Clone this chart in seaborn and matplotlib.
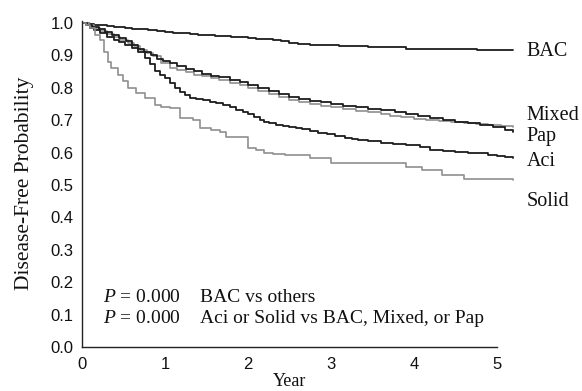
import matplotlib
matplotlib.use("Agg")
import matplotlib.pyplot as plt
import seaborn as sns
import pandas as pd

sns.set_theme(style="white")
plt.rcParams["font.family"] = ["Liberation Serif", "DejaVu Serif"]
plt.rcParams["mathtext.fontset"] = "custom"
plt.rcParams["mathtext.it"] = "Liberation Serif:italic"
plt.rcParams["mathtext.rm"] = "Liberation Serif"

# Kaplan-Meier step curves (time in years, survival probability)
bac_t = [0, 0.03, 0.08, 0.15, 0.22, 0.3, 0.38, 0.45, 0.52, 0.6, 0.7, 0.8, 0.9, 1.0, 1.1, 1.2, 1.3, 1.4, 1.5, 1.6,
         1.7, 1.8, 1.9, 2.0, 2.1, 2.2, 2.3, 2.4, 2.5, 2.6, 2.75, 2.9, 3.1, 3.3, 3.45, 3.6, 3.9, 4.3, 4.76, 5.2]
bac_s = [1.0, 0.999, 0.997, 0.995, 0.993, 0.991, 0.989, 0.987, 0.985, 0.983, 0.98, 0.978, 0.975, 0.972, 0.97, 0.968,
         0.966, 0.964, 0.962, 0.961, 0.96, 0.958, 0.956, 0.954, 0.952, 0.95, 0.947, 0.943, 0.939, 0.936, 0.933, 0.931,
         0.929, 0.928, 0.927, 0.925, 0.921, 0.919, 0.917, 0.917]

pap_t = [0, 0.06, 0.12, 0.2, 0.28, 0.36, 0.45, 0.53, 0.6, 0.68, 0.75, 0.83, 0.9, 0.98, 1.06, 1.15, 1.25, 1.35, 1.45,
         1.55, 1.65, 1.78, 1.9, 2.0, 2.12, 2.25, 2.38, 2.5, 2.62, 2.75, 2.88, 3.0, 3.15, 3.3, 3.45, 3.6, 3.77, 3.9,
         4.05, 4.2, 4.35, 4.5, 4.65, 4.8, 4.95, 5.1, 5.2]
pap_s = [1.0, 0.995, 0.988, 0.98, 0.972, 0.963, 0.953, 0.943, 0.932, 0.921, 0.911, 0.9, 0.89, 0.882, 0.876, 0.867,
         0.858, 0.851, 0.844, 0.838, 0.832, 0.824, 0.818, 0.81, 0.8, 0.79, 0.781, 0.772, 0.766, 0.76, 0.755, 0.75,
         0.745, 0.741, 0.736, 0.731, 0.726, 0.72, 0.714, 0.708, 0.702, 0.696, 0.69, 0.684, 0.678, 0.671, 0.665]

mixed_t = [0, 0.08, 0.15, 0.22, 0.3, 0.38, 0.46, 0.55, 0.63, 0.7, 0.78, 0.85, 0.95, 1.06, 1.15, 1.25, 1.35, 1.45,
           1.55, 1.65, 1.78, 1.9, 2.0, 2.12, 2.25, 2.38, 2.5, 2.62, 2.75, 2.88, 3.0, 3.15, 3.3, 3.45, 3.6, 3.71,
           3.85, 4.0, 4.15, 4.3, 4.45, 4.6, 4.75, 4.9, 5.05, 5.2]
mixed_s = [1.0, 0.993, 0.985, 0.976, 0.967, 0.958, 0.948, 0.938, 0.928, 0.918, 0.908, 0.898, 0.878, 0.862, 0.855,
           0.848, 0.841, 0.835, 0.829, 0.823, 0.815, 0.808, 0.80, 0.79, 0.78, 0.771, 0.762, 0.756, 0.75, 0.745,
           0.74, 0.735, 0.729, 0.724, 0.718, 0.713, 0.709, 0.705, 0.701, 0.698, 0.695, 0.692, 0.689, 0.686, 0.683, 0.68]

aci_t = [0, 0.05, 0.1, 0.15, 0.22, 0.3, 0.38, 0.45, 0.52, 0.6, 0.67, 0.76, 0.82, 0.88, 0.94, 1.0, 1.06, 1.12, 1.18,
         1.24, 1.3, 1.38, 1.46, 1.54, 1.62, 1.7, 1.78, 1.86, 1.94, 2.0, 2.07, 2.14, 2.2, 2.26, 2.34, 2.42, 2.5, 2.58,
         2.65, 2.75, 2.85, 2.95, 3.05, 3.17, 3.25, 3.33, 3.45, 3.6, 3.75, 3.9, 4.08, 4.2, 4.35, 4.5, 4.65, 4.76, 4.9,
         5.0, 5.1, 5.2]
aci_s = [1.0, 0.993, 0.985, 0.977, 0.968, 0.958, 0.948, 0.94, 0.932, 0.922, 0.91, 0.892, 0.872, 0.852, 0.84, 0.83,
         0.815, 0.80, 0.788, 0.778, 0.77, 0.765, 0.761, 0.757, 0.752, 0.746, 0.74, 0.733, 0.725, 0.719, 0.71, 0.70,
         0.695, 0.69, 0.686, 0.683, 0.68, 0.676, 0.672, 0.666, 0.66, 0.656, 0.651, 0.645, 0.642, 0.64, 0.636, 0.63,
         0.627, 0.623, 0.618, 0.608, 0.605, 0.602, 0.60, 0.598, 0.594, 0.59, 0.586, 0.583]

solid_t = [0, 0.05, 0.1, 0.16, 0.22, 0.27, 0.31, 0.35, 0.43, 0.5, 0.55, 0.65, 0.76, 0.88, 0.95, 1.06, 1.18, 1.34,
           1.42, 1.55, 1.66, 1.74, 2.0, 2.1, 2.2, 2.3, 2.45, 2.75, 3.0, 3.9, 4.1, 4.34, 4.6, 5.2]
solid_s = [1.0, 0.995, 0.985, 0.963, 0.948, 0.91, 0.88, 0.86, 0.84, 0.82, 0.80, 0.785, 0.77, 0.747, 0.742, 0.738,
           0.707, 0.70, 0.676, 0.67, 0.665, 0.649, 0.613, 0.607, 0.60, 0.596, 0.593, 0.583, 0.569, 0.557, 0.546,
           0.531, 0.518, 0.515]

groups = ["BAC", "Mixed", "Pap", "Aci", "Solid"]
curve_t = {"BAC": bac_t, "Mixed": mixed_t, "Pap": pap_t, "Aci": aci_t, "Solid": solid_t}
curve_s = {"BAC": bac_s, "Mixed": mixed_s, "Pap": pap_s, "Aci": aci_s, "Solid": solid_s}
label_y = {"BAC": 0.911, "Mixed": 0.716, "Pap": 0.649, "Aci": 0.574, "Solid": 0.45}
colors = {"BAC": "#1c1c1c", "Mixed": "#8f8f8f", "Pap": "#1c1c1c", "Aci": "#1c1c1c", "Solid": "#8f8f8f"}
widths = {"BAC": 1.3, "Mixed": 1.2, "Pap": 1.3, "Aci": 1.3, "Solid": 1.2}

x_ticks = [0, 1, 2, 3, 4, 5]
y_ticks = [0.0, 0.1, 0.2, 0.3, 0.4, 0.5, 0.6, 0.7, 0.8, 0.9, 1.0]
p_lines = [("$P$ = 0.000", "BAC vs others"),
           ("$P$ = 0.000", "Aci or Solid vs BAC, Mixed, or Pap")]

fig = plt.figure(figsize=(5.82, 3.91), dpi=100)
ax = fig.add_axes([82 / 582, 44 / 391, 433 / 582, 325.6 / 391])

for g in groups:
    df = pd.DataFrame({"t": curve_t[g], "s": curve_s[g]})
    sns.lineplot(data=df, x="t", y="s", ax=ax, drawstyle="steps-post",
                 color=colors[g], linewidth=widths[g], estimator=None, sort=False)
    ax.text(5.36, label_y[g], g, fontsize=14.5, va="center", ha="left",
            clip_on=False, color="#111111")

ax.set_xlim(0, 5.22)
ax.set_ylim(0, 1.005)
ax.set_xticks(x_ticks)
ax.set_yticks(y_ticks)
ax.set_xticklabels([str(v) for v in x_ticks], fontfamily="Liberation Sans", fontsize=12)
ax.set_yticklabels([f"{v:.1f}" for v in y_ticks], fontfamily="Liberation Sans", fontsize=12)
ax.tick_params(axis="both", direction="in", length=2.5, width=0.8, colors="#222222",
               labelcolor="#111111")
ax.tick_params(axis="y", pad=6)
ax.tick_params(axis="x", pad=7)

for side in ["top", "right"]:
    ax.spines[side].set_visible(False)
for side in ["left", "bottom"]:
    ax.spines[side].set_color("#222222")
    ax.spines[side].set_linewidth(1.0)
ax.spines["bottom"].set_bounds(0, 5)

ax.set_xlabel("")
ax.set_ylabel("")
ax.text(2.5, -0.108, "Year", fontsize=13, ha="center", va="center",
        transform=ax.transData, clip_on=False, color="#111111")
fig.text(25 / 582, 1 - 183 / 391, "Disease-Free Probability", rotation=90,
         fontsize=15.5, ha="center", va="center", color="#111111")

for i, (p, desc) in enumerate(p_lines):
    yv = 0.154 - i * 0.065
    ax.text(0.25, yv, p, fontsize=14, ha="left", va="center", color="#111111")
    ax.text(1.42, yv, desc, fontsize=14, ha="left", va="center", color="#111111")

fig.savefig("out.png", dpi=100, facecolor="white")
